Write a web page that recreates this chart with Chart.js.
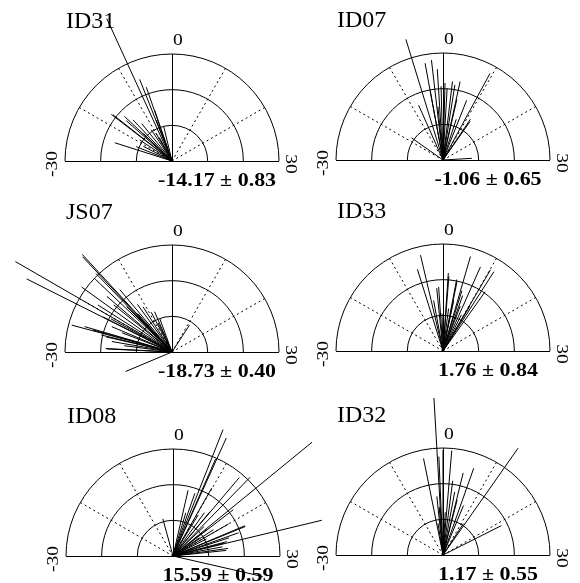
<!DOCTYPE html>
<html>
<head>
<meta charset="utf-8">
<script src="https://cdn.jsdelivr.net/npm/chart.js@4/dist/chart.umd.min.js"></script>
<style>
  body { margin: 0; background: #fff; }
  #figure { position: relative; width: 580px; height: 583px; overflow: hidden; background: #fff; }
  #figure canvas { position: absolute; }
</style>
</head>
<body>
<div id="figure"></div>
<script>
// Panel names and the mean ± s.e. printed under each half-dial
const panelNames = ['ID31', 'ID07', 'JS07', 'ID33', 'ID08', 'ID32'];
const panelMean = [-14.17, -1.06, -18.73, 1.76, 15.59, 1.17];
const panelSe = [0.83, 0.65, 0.40, 0.84, 0.59, 0.55];
const axisTicks = [-30, 0, 30];
const gridTicks = [-20, -10, 10, 20];

// Each ray: direction in axis units (-30..30) and length (outer ring = 1)
const id31Angle = [-8.2, -7.2, -6.4, -6.3, -4.5, -17.5, -17.3, -15.6, -16.2, -14.5, -24.1, -22.7, -15.4, -11.2, -7.0, -19.0, -13.0, -10.0, -21.0, -9.5];
const id31Length = [1.465, 0.82, 0.73, 0.50, 0.33, 0.715, 0.70, 0.61, 0.57, 0.53, 0.56, 0.36, 0.37, 0.35, 0.41, 0.36, 0.45, 0.30, 0.30, 0.25];

const id07Angle = [-5.7, -2.2, -3.5, -1.2, -0.5, 1.1, 3.0, 4.1, 2.3, 7.2, 9.5, 11.7, 11.3, -8.0, -18.3, 28.9, -3.5, 4.3, 0.5, -1.8, 6.0];
const id07Length = [1.18, 0.94, 0.92, 0.85, 0.69, 0.67, 0.71, 0.75, 0.74, 0.60, 0.92, 0.44, 0.46, 0.56, 0.36, 0.27, 0.66, 0.58, 0.72, 0.50, 0.40];

const js07Angle = [-20.0, -21.1, -14.4, -14.2, -15.5, -18.1, -13.3, -19.2, -25.0, -24.6, -25.5, -29.1, -10.9, -7.8, -6.7, 11.0, -37.6, -22.4, -26.7, -21.0, -14.7, -13.9, -9.2, -24.8, -25.7, -29.0, -16.5, -17.0, -12.0, -20.5, -23.0, -27.5, -15.0, -8.5];
const js07Length = [1.69, 1.52, 1.22, 1.24, 0.99, 1.04, 0.76, 0.82, 0.97, 0.85, 0.68, 0.61, 0.50, 0.41, 0.33, 0.30, 0.47, 0.61, 0.57, 0.72, 1.02, 0.48, 0.42, 0.77, 0.63, 0.62, 0.80, 0.70, 0.55, 0.65, 0.50, 0.45, 0.60, 0.30];

const id33Angle = [-4.4, -5.8, 5.4, 8.0, 10.1, 10.9, 1.5, -1.3, 3.8, 5.8, -3.5, 4.0, 11.8, 10.3, -1.9, 1.3, 3.6, 7.0, 2.5, -0.5, 6.5, 9.0];
const id33Length = [0.92, 0.80, 0.92, 0.86, 0.88, 0.88, 0.70, 0.60, 0.66, 0.59, 0.48, 0.48, 0.68, 0.49, 0.59, 0.73, 0.68, 0.45, 0.40, 0.35, 0.55, 0.38];

const id08Angle = [7.2, 8.1, 16.9, 25.5, 13.4, 14.8, 7.9, 4.3, 22.4, 27.4, 25.0, -5.1, 34.3, 17.5, 9.9, 6.4, 13.3, 17.3, 22.6, 25.3, 20.0, 12.0, 19.0, 24.0, 26.5, 15.5, 10.5, 5.5, 21.0, 23.5, 28.0, 18.5];
const id08Length = [1.27, 1.21, 1.68, 1.43, 0.96, 1.03, 0.99, 0.63, 0.73, 0.52, 0.52, 0.36, 0.86, 0.71, 0.73, 0.62, 0.54, 0.40, 0.73, 0.49, 0.60, 0.50, 0.45, 0.55, 0.47, 0.40, 0.45, 0.42, 0.35, 0.65, 0.50, 0.30];

const id32Angle = [-1.1, 0.0, -3.8, 1.6, 6.5, 4.6, 11.7, 21.1, 4.8, -2.0, -0.8, 11.0, 2.5, -1.5, 3.5, 7.5, 1.0, -3.0];
const id32Length = [1.47, 0.98, 0.92, 0.98, 0.86, 0.79, 1.22, 0.61, 0.53, 0.55, 0.92, 0.35, 0.70, 0.45, 0.60, 0.50, 0.40, 0.30];

const panelAngles = [id31Angle, id07Angle, js07Angle, id33Angle, id08Angle, id32Angle];
const panelLengths = [id31Length, id07Length, js07Length, id33Length, id08Length, id32Length];

// layout: dial centre on the page, outer ring radius in px
const centres = [[172, 161], [443, 160], [172, 352], [443, 351], [173, 556], [443, 555]];
const RING = 107;
const CANVAS_W = 340, CANVAS_H = 210, ORIGIN_X = 170, ORIGIN_Y = 170;
const SERIF = '"Liberation Serif", "Times New Roman", serif';

// axis units -> radians, 30 units is a quarter turn
const toRad = a => a * Math.PI / 60;

function textAt(ctx, str, x, y, opts) {
  ctx.save();
  ctx.translate(x, y);
  if (opts.rotate) ctx.rotate(opts.rotate);
  ctx.scale(opts.stretch || 1, 1);
  ctx.font = opts.font;
  ctx.textAlign = opts.align || 'center';
  ctx.textBaseline = 'alphabetic';
  ctx.fillStyle = '#000';
  ctx.fillText(str, 0, 0);
  ctx.restore();
}

const halfDial = {
  id: 'halfDial',
  beforeDatasetsDraw(chart, args, opts) {
    const { ctx, scales: { x, y } } = chart;
    const ox = x.getPixelForValue(0);
    const oy = y.getPixelForValue(0);
    const unit = x.getPixelForValue(1) - ox;
    const line = y.getPixelForValue(0) + 0.5;

    ctx.save();
    ctx.strokeStyle = '#000';
    ctx.lineWidth = 1;

    [1 / 3, 2 / 3, 1].forEach(r => {
      ctx.beginPath();
      ctx.arc(ox, oy, r * unit, Math.PI, 2 * Math.PI);
      ctx.stroke();
    });

    ctx.beginPath();
    ctx.moveTo(x.getPixelForValue(-1), line);
    ctx.lineTo(x.getPixelForValue(1), line);
    ctx.moveTo(ox + 0.5, oy);
    ctx.lineTo(ox + 0.5, y.getPixelForValue(1));
    ctx.stroke();

    ctx.setLineDash([2, 3]);
    gridTicks.forEach(t => {
      ctx.beginPath();
      ctx.moveTo(ox, oy);
      ctx.lineTo(x.getPixelForValue(Math.sin(toRad(t))), y.getPixelForValue(Math.cos(toRad(t))));
      ctx.stroke();
    });
    ctx.restore();

    // tick labels round the dial
    const tickFont = '17px ' + SERIF;
    textAt(ctx, String(axisTicks[1]), ox + 6, oy - 116, { font: tickFont, stretch: 1.15 });
    textAt(ctx, String(axisTicks[0]), ox - 115, oy + 3, { font: tickFont, stretch: 1.15, rotate: -Math.PI / 2 });
    textAt(ctx, String(axisTicks[2]), ox + 114, oy + 3, { font: tickFont, stretch: 1.15, rotate: Math.PI / 2 });

    textAt(ctx, opts.name, ox - 106, oy - 133, { font: '24px ' + SERIF, align: 'left' });
    const stat = opts.mean.toFixed(2) + ' \u00B1 ' + opts.se.toFixed(2);
    textAt(ctx, stat, ox + 45, oy + 25, { font: 'bold 18px ' + SERIF, stretch: 1.22 });
  }
};

const figure = document.getElementById('figure');

panelNames.forEach((name, i) => {
  const canvas = document.createElement('canvas');
  canvas.width = CANVAS_W;
  canvas.height = CANVAS_H;
  canvas.style.width = CANVAS_W + 'px';
  canvas.style.height = CANVAS_H + 'px';
  canvas.style.left = (centres[i][0] - ORIGIN_X) + 'px';
  canvas.style.top = (centres[i][1] - ORIGIN_Y) + 'px';
  figure.appendChild(canvas);

  const rays = panelAngles[i].map((a, k) => ({
    data: [
      { x: 0, y: 0 },
      { x: panelLengths[i][k] * Math.sin(toRad(a)), y: panelLengths[i][k] * Math.cos(toRad(a)) }
    ],
    showLine: true,
    borderColor: '#000',
    borderWidth: 1,
    pointRadius: 0,
    clip: false
  }));

  new Chart(canvas, {
    type: 'scatter',
    data: { datasets: rays },
    options: {
      responsive: false,
      animation: false,
      events: [],
      layout: { padding: 0 },
      scales: {
        x: { type: 'linear', display: false, min: -ORIGIN_X / RING, max: (CANVAS_W - ORIGIN_X) / RING },
        y: { type: 'linear', display: false, min: -(CANVAS_H - ORIGIN_Y) / RING, max: ORIGIN_Y / RING }
      },
      plugins: {
        legend: { display: false },
        tooltip: { enabled: false },
        halfDial: { name: name, mean: panelMean[i], se: panelSe[i] }
      }
    },
    plugins: [halfDial]
  });
});
</script>
</body>
</html>
